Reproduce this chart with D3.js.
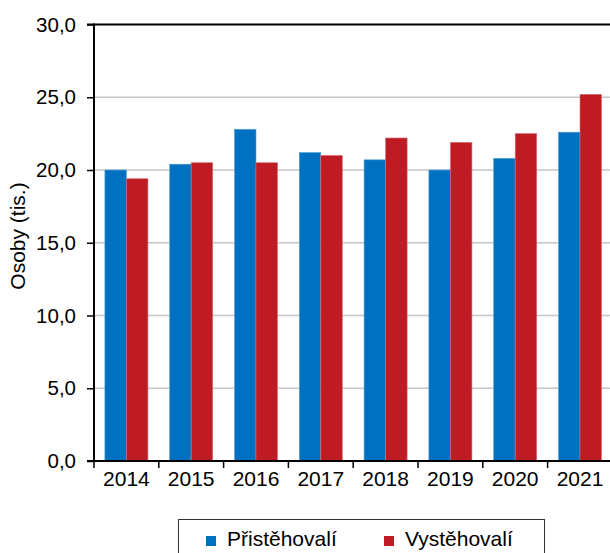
<!DOCTYPE html>
<html>
<head>
<meta charset="utf-8">
<script src="https://cdnjs.cloudflare.com/ajax/libs/d3/7.8.5/d3.min.js"></script>
<style>
  body { margin: 0; background: #fff; }
  svg text { font-family: "Liberation Sans", Arial, sans-serif; fill: #000; }
</style>
</head>
<body>
<div id="chart"></div>
<script>
var years = ['2014', '2015', '2016', '2017', '2018', '2019', '2020', '2021'];
var prist = [20.0, 20.4, 22.8, 21.2, 20.7, 20.0, 20.8, 22.6];
var vyst = [19.4, 20.5, 20.5, 21.0, 22.2, 21.9, 22.5, 25.2];
var seriesNames = ['Přistěhovalí', 'Vystěhovalí'];
var yTicks = [0, 5, 10, 15, 20, 25, 30];

var colors = ['#0070c0', '#be1b24'];

var svg = d3.select('#chart')
    .append('svg')
    .attr('width', 610)
    .attr('height', 553);

var x = d3.scaleBand()
    .domain(years)
    .range([94, 612.4]);

var inner = d3.scaleBand()
    .domain([0, 1])
    .range([0, x.bandwidth()])
    .paddingOuter(0.505)
    .paddingInner(0);

var y = d3.scaleLinear()
    .domain([0, 30])
    .range([461, 24.5]);

// gridlines
svg.selectAll('.grid')
    .data(yTicks.filter(d => d > 0 && d < 30))
    .enter()
    .append('line')
    .attr('x1', 94)
    .attr('x2', 612)
    .attr('y1', d => y(d))
    .attr('y2', d => y(d))
    .style('stroke', '#c6c6c6')
    .style('stroke-width', 1.5);

// top line
svg.append('line')
    .attr('x1', 87)
    .attr('x2', 612)
    .attr('y1', y(30))
    .attr('y2', y(30))
    .style('stroke', '#000')
    .style('stroke-width', 2);

// bars
var data = [];
years.forEach((yr, i) => {
    data.push({ year: yr, s: 0, v: prist[i] });
    data.push({ year: yr, s: 1, v: vyst[i] });
});

svg.selectAll('.bar')
    .data(data)
    .enter()
    .append('rect')
    .classed('bar', true)
    .attr('x', d => x(d.year) + inner(d.s))
    .attr('width', inner.bandwidth())
    .attr('y', d => y(d.v))
    .attr('height', d => y(0) - y(d.v))
    .attr('fill', d => colors[d.s])
    .style('stroke', d => d.s ? '#d8707a' : '#5aa4d8')
    .style('stroke-width', 0.6);

// y axis
var yAxis = d3.axisLeft(y)
    .tickValues(yTicks)
    .tickSize(7)
    .tickPadding(11)
    .tickFormat(d => d3.format('.1f')(d).replace('.', ','));

var gy = svg.append('g')
    .attr('transform', 'translate(94,0)')
    .call(yAxis);
gy.select('.domain').remove();
gy.selectAll('line').style('stroke', '#000').style('stroke-width', 1.5);
gy.selectAll('text').style('font-size', '20.5px');

svg.append('line')
    .attr('x1', 94).attr('x2', 94)
    .attr('y1', y(30) - 1).attr('y2', y(0))
    .style('stroke', '#000')
    .style('stroke-width', 2);

// x axis
svg.append('line')
    .attr('x1', 87).attr('x2', 612)
    .attr('y1', y(0)).attr('y2', y(0))
    .style('stroke', '#000')
    .style('stroke-width', 2);

svg.selectAll('.xtick')
    .data(years)
    .enter()
    .append('line')
    .attr('x1', d => x(d))
    .attr('x2', d => x(d))
    .attr('y1', y(0))
    .attr('y2', y(0) + 7)
    .style('stroke', '#000')
    .style('stroke-width', 1.5);

svg.selectAll('.xlab')
    .data(years)
    .enter()
    .append('text')
    .attr('x', d => x(d) + x.bandwidth() / 2)
    .attr('y', 486)
    .attr('text-anchor', 'middle')
    .style('font-size', '21px')
    .text(d => d);

// y label
svg.append('text')
    .attr('transform', 'translate(25,236) rotate(-90)')
    .attr('text-anchor', 'middle')
    .style('font-size', '21px')
    .text('Osoby (tis.)');

// legend
svg.append('rect')
    .attr('x', 178.5)
    .attr('y', 519.5)
    .attr('width', 366)
    .attr('height', 60)
    .style('fill', 'none')
    .style('stroke', '#333')
    .style('stroke-width', 1);

var legX = [206, 384];
var leg = svg.selectAll('.leg')
    .data(seriesNames)
    .enter()
    .append('g')
    .attr('transform', (d, i) => 'translate(' + legX[i] + ',536)');

leg.append('rect')
    .attr('width', 10)
    .attr('height', 10)
    .attr('fill', (d, i) => colors[i]);

leg.append('text')
    .attr('x', 21)
    .attr('y', 10)
    .style('font-size', '21px')
    .text(d => d);
</script>
</body>
</html>
